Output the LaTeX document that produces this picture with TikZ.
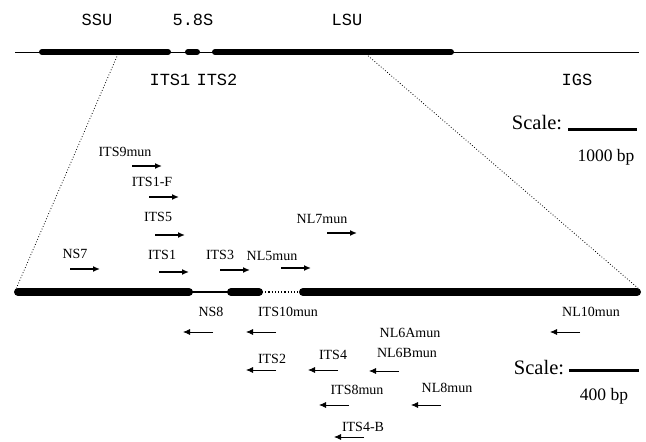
\documentclass[tikz,border=0pt]{standalone}
\usepackage{fontspec}
\setmainfont{Liberation Serif}
\setmonofont{Liberation Mono}
\usetikzlibrary{arrows.meta,positioning}

\tikzset{
  primer/.style={font=\fontsize{14}{14}\selectfont, inner sep=0pt},
  region/.style={font=\ttfamily\fontsize{17}{17}\selectfont, inner sep=0pt},
  scaletext/.style={font=\fontsize{20.5}{20.5}\selectfont, inner sep=0pt},
  bptext/.style={font=\fontsize{17.5}{17.5}\selectfont, inner sep=0pt},
  fwd/.style={line width=1.6pt, -{Latex[length=7pt,width=6pt]}},
  rev/.style={line width=0.8pt, -{Latex[length=7pt,width=6pt]}},
  gene/.style={line width=6pt, line cap=round},
  bargene/.style={line width=8pt, line cap=round},
}

\begin{document}
\begin{tikzpicture}[x=1pt,y=-1pt]
\useasboundingbox (0,0) rectangle (646,442);

% whole repeat
\draw[line width=1pt] (15,52) -- (639,52);
\draw[gene] (42,52) -- (168,52);
\draw[gene] (188,52) -- (197,52);
\draw[gene] (215,52) -- (451,52);
\node[region] (ssu) at (97,20) {SSU};
\node[region] (s58) at (193,20) {5.8S};
\node[region] (lsu) at (347,20) {LSU};
\node[region] (its1) at (170,80) {ITS1};
\node[region] (its2) at (217,80) {ITS2};
\node[region] (igs) at (577,80) {IGS};

% scale top
\node[scaletext] (scaleA) at (537,123) {Scale:};
\draw[line width=3pt] (568,129) -- (637,129);
\node[bptext] (kbA) at (606,157) {1000 bp};

% enlarged part
\draw[line width=1.2pt] (15,292) -- (228,292);
\draw[line width=1.2pt, dotted] (262,292) -- (300,292);
\draw[bargene] (18,292) -- (189,292);
\draw[bargene] (231,292) -- (259,292);
\draw[bargene] (303,292) -- (637,292);

% zoom lines
\coordinate (cutL) at (118,54);
\coordinate (cutR) at (366,54);
\coordinate (endL) at (16,289);
\coordinate (endR) at (639,289);
\draw[dotted, line width=0.8pt] (cutL) -- (endL);
\draw[dotted, line width=0.8pt] (cutR) -- (endR);

% forward primers
\foreach \pname/\lx/\ly/\ax/\ay in {ITS9mun/125/152/132/166, ITS1-F/152/182/149/197,
    ITS5/158/217/155/235, ITS1/162/255/159/272, NS7/75/254/70/269,
    ITS3/220/255/220/270, NL5mun/272/256/281/268, NL7mun/322/219/327/233} {
  \node[primer] (\pname) at (\lx,\ly) {\pname};
  \draw[fwd] (\ax,\ay) -- ++(30,0);
}

% reverse primers
\foreach \pname/\lx/\ly/\ax/\ay in {NS8/211/312/213/332, ITS10mun/288/312/276/332,
    NL10mun/591/312/580/332, ITS2/272/359/276/370, ITS4/333/355/338/370,
    NL6Bmun/407/353/399/371, ITS8mun/357/390/349/405, NL8mun/447/388/441/405,
    ITS4-B/363/427/364/437} {
  \node[primer] (\pname) at (\lx,\ly) {\pname};
  \draw[rev] (\ax,\ay) -- ++(-30,0);
}
\node[primer] (NL6Amun) at (410,333) {NL6Amun};

% scale bottom
\node[scaletext] (scaleB) at (539,368) {Scale:};
\draw[line width=3pt] (569,370) -- (639,370);
\node[bptext] (kbB) at (604,396) {400 bp};
\end{tikzpicture}
\end{document}
